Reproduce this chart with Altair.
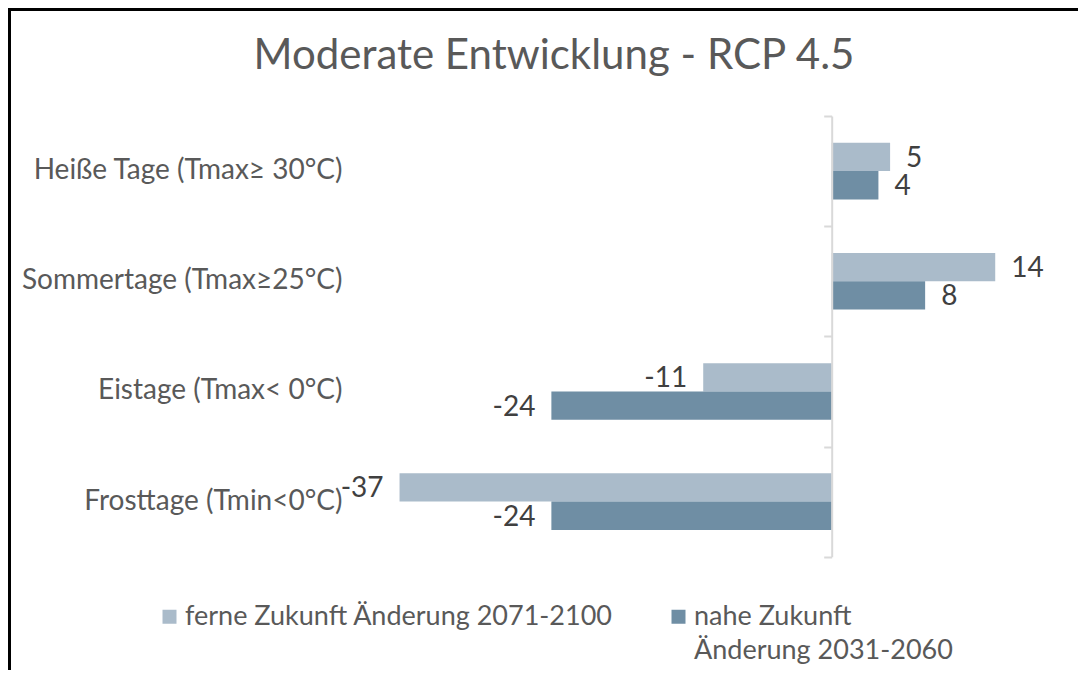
import json
import altair as alt
import pandas as pd

# ---------------- data ----------------
categories = [
    "Heiße Tage (Tmax≥ 30°C)",
    "Sommertage (Tmax≥25°C)",
    "Eistage (Tmax< 0°C)",
    "Frosttage (Tmin<0°C)",
]
series = ["ferne Zukunft Änderung 2071-2100", "nahe Zukunft Änderung 2031-2060"]
ferne_values = [5, 14, -11, -37]
nahe_values = [4, 8, -24, -24]
legend_lines = {
    "ferne Zukunft Änderung 2071-2100": ["ferne Zukunft Änderung 2071-2100", ""],
    "nahe Zukunft Änderung 2031-2060": ["nahe Zukunft", "Änderung 2031-2060"],
}
colors = ["#AABBCA", "#6F8EA4"]
title_text = "Moderate Entwicklung - RCP 4.5"

rows = []
for c, f, n in zip(categories, ferne_values, nahe_values):
    rows.append({"Kategorie": c, "Reihe": series[0], "Wert": f})
    rows.append({"Kategorie": c, "Reihe": series[1], "Wert": n})
df = pd.DataFrame(rows)

# ---------------- layout ----------------
W, H = 1070, 662
ZERO_PX = 823.7
PX_PER_UNIT = 11.68
x_domain = [-ZERO_PX / PX_PER_UNIT, (W - ZERO_PX) / PX_PER_UNIT]
TEXT = "#595959"
FONT = "Lato"

x_enc = alt.X("Wert:Q", scale=alt.Scale(domain=x_domain, nice=False), axis=None)
y_scale = alt.Scale(range=[108, 548.7], paddingInner=0, paddingOuter=0)
yoff = alt.YOffset("Reihe:N", sort=series,
                   scale=alt.Scale(paddingInner=0, paddingOuter=0.947))

label_expr = " : ".join(
    "datum.label == '%s' ? %s" % (k, json.dumps(v, ensure_ascii=False))
    for k, v in legend_lines.items()
) + " : datum.label"

color = alt.Color(
    "Reihe:N", sort=series,
    scale=alt.Scale(domain=series, range=colors),
    legend=alt.Legend(
        orient="none", legendX=148, legendY=595, direction="horizontal",
        columns=2, title=None, symbolType="square", symbolSize=196,
        symbolStrokeWidth=0, labelFont=FONT, labelFontSize=27,
        labelColor=TEXT, labelOffset=2, columnPadding=52, labelLimit=700,
        labelBaseline="middle", labelExpr=label_expr, padding=0,
    ),
)

base = alt.Chart(df).transform_calculate(Beschriftung="toString(datum.Wert)")

bars = base.mark_bar().encode(
    x=x_enc,
    y=alt.Y("Kategorie:N", sort=categories, scale=y_scale,
            axis=alt.Axis(orient="left", offset=-334, labelPadding=0,
                          ticks=False, tickSize=0, domain=False, title=None,
                          grid=False, labelFont=FONT, labelFontSize=28,
                          labelColor=TEXT, labelAlign="right",
                          labelBaseline="middle", labelLimit=500)),
    yOffset=yoff,
    color=color,
)

pos_text = base.transform_filter("datum.Wert >= 0").mark_text(
    align="left", baseline="middle", dx=16, dy=2, font=FONT, fontSize=28,
    color="#404040",
).encode(
    x=x_enc,
    y=alt.Y("Kategorie:N", sort=categories, scale=y_scale,
            axis=alt.Axis(orient="left", offset=-ZERO_PX, labels=False,
                          tickBand="extent", domain=True,
                          domainColor="#D9D9D9", domainWidth=2,
                          tickColor="#D9D9D9", tickWidth=2, tickSize=8,
                          title=None, grid=False, zindex=1)),
    yOffset=yoff,
    text="Beschriftung:N",
)

neg_text = base.transform_filter("datum.Wert < 0").mark_text(
    align="right", baseline="middle", dx=-16, dy=2, font=FONT, fontSize=28,
    color="#404040",
).encode(
    x=x_enc,
    y=alt.Y("Kategorie:N", sort=categories, scale=y_scale, axis=None),
    yOffset=yoff,
    text="Beschriftung:N",
)

frame = alt.Chart(pd.DataFrame({"f": [0]})).mark_rect(
    fillOpacity=0, stroke="black", strokeWidth=3, clip=True
).encode(
    x=alt.value(1.5), x2=alt.value(W + 20),
    y=alt.value(1.5), y2=alt.value(H + 20),
)

chart = (
    alt.layer(bars, pos_text, neg_text, frame)
    .resolve_axis(y="independent")
    .properties(
        width=W, height=H,
        title=alt.TitleParams(text=title_text, font=FONT, fontSize=42,
                              color=TEXT, fontWeight="normal",
                              anchor="middle", offset=-103, dx=11,
                              baseline="alphabetic"),
        autosize=alt.AutoSizeParams(type="none"),
        padding=0,
        background="white",
    )
    .configure(
        view=alt.ViewConfig(stroke="transparent"),
        style={"guide-label": {"lineHeight": 34}},
    )
)

chart.save("out.html", embed_options={"renderer": "svg", "actions": False})
